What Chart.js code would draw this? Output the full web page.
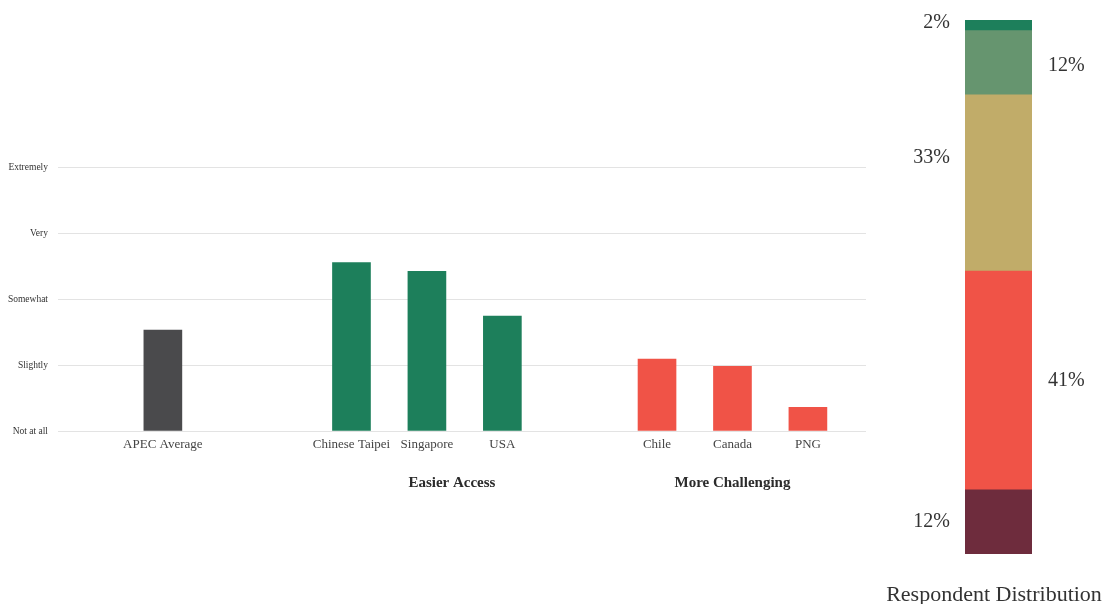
<!DOCTYPE html>
<html>
<head>
<meta charset="utf-8">
<script src="https://cdn.jsdelivr.net/npm/chart.js@4.4.1/dist/chart.umd.min.js"></script>
<style>
    html, body { margin: 0; padding: 0; background: #fff; }
    #wrap { position: relative; width: 1103px; height: 604px; overflow: hidden; }
    #scoreChart { position: absolute; left: 0; top: 0; }
    #distChart { position: absolute; left: 880px; top: 0; }
</style>
</head>
<body>
<div id="wrap">
    <canvas id="scoreChart" width="880" height="604"></canvas>
    <canvas id="distChart" width="223" height="604"></canvas>
</div>
<script>
// --- data ---
const levelLabels = ['Not at all', 'Slightly', 'Somewhat', 'Very', 'Extremely'];
const categories = ['APEC Average', 'Chinese Taipei', 'Singapore', 'USA', 'Chile', 'Canada', 'PNG'];
const categoryGroup = ['', 'Easier Access', 'Easier Access', 'Easier Access', 'More Challenging', 'More Challenging', 'More Challenging'];
const scores = [1.53, 2.55, 2.42, 1.74, 1.09, 0.98, 0.36];

const shareLabels = ['Not at all', 'Slightly', 'Somewhat', 'Very', 'Extremely'];
const shares = [12, 41, 33, 12, 2];

const FONT = "'Liberation Serif', 'DejaVu Serif', serif";

// spacing between groups (in bar slots)
const groupGaps = [1.5, 1.05];
const xPos = [];
let cur = 0, gi = 0;
categories.forEach((c, i) => {
    if (i > 0) {
        cur += 1;
        if (categoryGroup[i] !== categoryGroup[i - 1]) cur += groupGaps[gi++];
    }
    xPos.push(cur);
});

const groupColor = { '': '#4a4a4c', 'Easier Access': '#1d7f5b', 'More Challenging': '#f05347' };
const groupLabelShift = { 'Easier Access': 25, 'More Challenging': 0 };

const groupLabelPlugin = {
    id: 'groupLabels',
    afterDraw(chart) {
        const ctx = chart.ctx;
        const xs = chart.scales.x;
        const names = [...new Set(categoryGroup.filter(g => g))];
        ctx.save();
        ctx.font = 'bold 15px ' + FONT;
        ctx.fillStyle = '#2b2b2b';
        ctx.textAlign = 'center';
        ctx.textBaseline = 'middle';
        names.forEach(name => {
            const idx = categoryGroup.map((g, i) => g === name ? i : -1).filter(i => i >= 0);
            const mid = (xPos[idx[0]] + xPos[idx[idx.length - 1]]) / 2;
            ctx.fillText(name, xs.getPixelForValue(mid) + groupLabelShift[name], 483);
        });
        ctx.restore();
    }
};

new Chart(document.getElementById('scoreChart').getContext('2d'), {
    type: 'bar',
    data: {
        datasets: [{
            data: categories.map((c, i) => ({ x: xPos[i], y: scores[i] })),
            backgroundColor: categoryGroup.map(g => groupColor[g]),
            barThickness: 38,
            borderWidth: 0
        }]
    },
    options: {
        responsive: false,
        animation: false,
        layout: { padding: { left: 0, right: 14, top: 167, bottom: 0 } },
        plugins: { legend: { display: false }, tooltip: { enabled: false } },
        scales: {
            x: {
                type: 'linear',
                offset: false,
                min: -1.39,
                max: 9.32,
                grid: { display: false, drawTicks: false },
                border: { display: false },
                afterFit: (s) => { s.height = 173; },
                afterBuildTicks: (s) => { s.ticks = xPos.map(v => ({ value: v })); },
                ticks: {
                    autoSkip: false,
                    maxRotation: 0,
                    padding: 6,
                    color: '#444',
                    font: { family: FONT, size: 13 },
                    callback: (v) => categories[xPos.indexOf(v)]
                }
            },
            y: {
                min: 0,
                max: 4,
                afterFit: (s) => { s.width = 58; },
                grid: { color: '#e3e3e3', drawTicks: false },
                border: { display: false },
                ticks: {
                    stepSize: 1,
                    padding: 10,
                    color: '#333',
                    font: { family: FONT, size: 9.5 },
                    callback: (v) => levelLabels[v]
                }
            }
        }
    },
    plugins: [groupLabelPlugin]
});

// --- respondent distribution ---
const shareColors = ['#6e2c3d', '#f05347', '#c1ac69', '#66956f', '#1d7f5b'];
const labelNudge = [0, 0, -25, 3, -3];

const shareLabelPlugin = {
    id: 'shareLabels',
    afterDraw(chart) {
        const ctx = chart.ctx;
        ctx.save();
        ctx.font = '20px ' + FONT;
        ctx.fillStyle = '#333';
        ctx.textBaseline = 'middle';
        chart.data.datasets.forEach((ds, i) => {
            const bar = chart.getDatasetMeta(i).data[0];
            const y = (bar.y + bar.base) / 2 + labelNudge[i];
            const half = bar.width / 2;
            if (i % 2 === 0) {
                ctx.textAlign = 'right';
                ctx.fillText(ds.data[0] + '%', bar.x - half - 15, y);
            } else {
                ctx.textAlign = 'left';
                ctx.fillText(ds.data[0] + '%', bar.x + half + 16, y);
            }
        });
        ctx.font = '22px ' + FONT;
        ctx.textAlign = 'center';
        ctx.fillText('Respondent Distribution', 114, 595);
        ctx.restore();
    }
};

new Chart(document.getElementById('distChart').getContext('2d'), {
    type: 'bar',
    data: {
        labels: [''],
        datasets: shareLabels.map((name, i) => ({
            label: name,
            data: [shares[i]],
            backgroundColor: shareColors[i],
            barPercentage: 1,
            categoryPercentage: 1,
            borderWidth: 0
        }))
    },
    options: {
        responsive: false,
        animation: false,
        layout: { padding: { left: 85, right: 71, top: 20, bottom: 50 } },
        plugins: { legend: { display: false }, tooltip: { enabled: false } },
        scales: {
            x: { stacked: true, display: false },
            y: { stacked: true, display: false, min: 0, max: 100 }
        }
    },
    plugins: [shareLabelPlugin]
});
</script>
</body>
</html>
